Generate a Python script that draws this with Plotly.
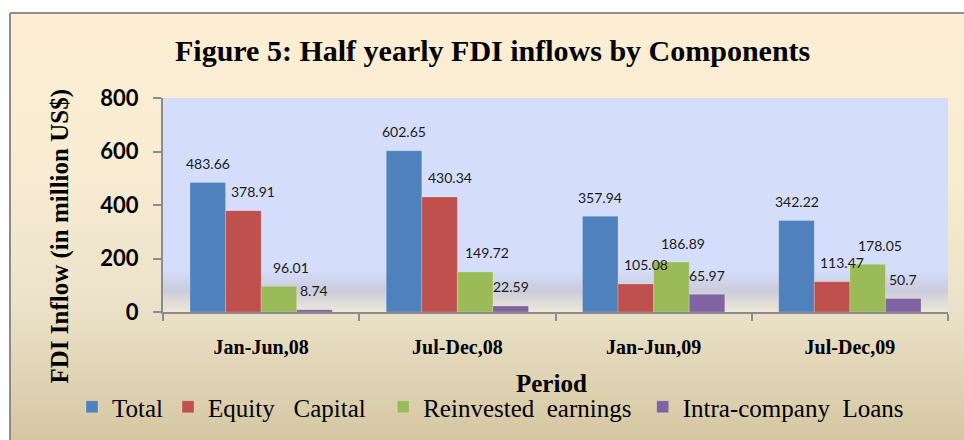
import plotly.graph_objects as go

# ---------------- data ----------------
periods = ["Jan-Jun,08", "Jul-Dec,08", "Jan-Jun,09", "Jul-Dec,09"]
total = [483.66, 602.65, 357.94, 342.22]
equity_capital = [378.91, 430.34, 105.08, 113.47]
reinvested_earnings = [96.01, 149.72, 186.89, 178.05]
intra_company_loans = [8.74, 22.59, 65.97, 50.7]
series_names = ["Total", "Equity   Capital", "Reinvested  earnings", "Intra-company  Loans"]
y_tick_values = [0, 200, 400, 600, 800]

# ---------------- style ----------------
W, H = 964, 440
PLOT_L, PLOT_R, PLOT_T, PLOT_B = 163, 948, 98, 312
colors = ["#4F81BD", "#C0504D", "#9BBB59", "#8064A2"]
label_xshift = [0, 10, 12, 0]
legend_pad = [0, 2, 1, 0]          # extra spacing (nbsp) after each legend entry
BARGAP = 0.275
SERIF = "Liberation Serif, Times New Roman, serif"
SANS = "Lato, Carlito, Calibri, sans-serif"
AXIS_GREY = "#8C8C8C"

series_values = [total, equity_capital, reinvested_earnings, intra_company_loans]

fig = go.Figure()

# background gradients (pixel-space helper axes x/y)
fig.add_trace(go.Scatter(
    x=[10, W, W, 10, 10], y=[0, 0, H - 13, H - 13, 0],
    mode="lines", fill="toself", line=dict(width=0),
    fillgradient=dict(type="vertical", start=0, stop=H - 13,
                      colorscale=[[0, "#D6C7A2"], [0.3, "#EAE1C8"], [0.6, "#F7ECD3"], [1, "#FDEED3"]]),
    hoverinfo="skip", showlegend=False, xaxis="x", yaxis="y"))
fig.add_trace(go.Scatter(
    x=[PLOT_L, PLOT_R, PLOT_R, PLOT_L, PLOT_L],
    y=[H - PLOT_B, H - PLOT_B, H - PLOT_T, H - PLOT_T, H - PLOT_B],
    mode="lines", fill="toself", line=dict(width=0),
    fillgradient=dict(type="vertical", start=H - PLOT_B, stop=H - PLOT_T,
                      colorscale=[[0, "#EEE8D6"], [0.1, "#CBCCDC"], [0.2, "#D4DEFB"], [1, "#D4DEFB"]]),
    hoverinfo="skip", showlegend=False, xaxis="x", yaxis="y"))

# bars
for name, pad, vals, col in zip(series_names, legend_pad, series_values, colors):
    fig.add_trace(go.Bar(
        x=periods, y=vals, name=name.replace(" ", "\u00a0") + "\u00a0" * pad,
        marker=dict(color=col, line=dict(color="rgba(255,255,255,0.35)", width=0.6)),
        xaxis="x2", yaxis="y2", hoverinfo="skip"))

# data labels
bar_w = (1 - BARGAP) / len(series_values)
annotations = []
for j, vals in enumerate(series_values):
    for i, v in enumerate(vals):
        annotations.append(dict(
            x=i + (j - (len(series_values) - 1) / 2) * bar_w, y=v,
            xref="x2", yref="y2", text=f"{v:g}", showarrow=False,
            xanchor="center", yanchor="middle", yshift=19, xshift=label_xshift[j],
            font=dict(family=SANS, size=14, color="#1a1a1a")))

annotations += [
    dict(text="Figure 5: Half yearly FDI inflows by Components", x=493 / W, y=(H - 50) / H,
         xref="paper", yref="paper", showarrow=False, xanchor="center", yanchor="middle",
         font=dict(family=SERIF, size=30, color="black", weight="bold")),
    dict(text="FDI Inflow (in million US$)", x=59 / W, y=(H - 236.5) / H, textangle=-90,
         xref="paper", yref="paper", showarrow=False, xanchor="center", yanchor="middle",
         font=dict(family=SERIF, size=25, color="black", weight="bold")),
    dict(text="Period", x=551 / W, y=(H - 383) / H,
         xref="paper", yref="paper", showarrow=False, xanchor="center", yanchor="middle",
         font=dict(family=SERIF, size=25, color="black", weight="bold")),
]

fig.update_layout(
    width=W, height=H,
    margin=dict(l=0, r=0, t=0, b=0, autoexpand=False),
    paper_bgcolor="white", plot_bgcolor="rgba(0,0,0,0)",
    barmode="group", bargap=BARGAP, bargroupgap=0,
    showlegend=True,
    legend=dict(orientation="h", x=72 / W, xanchor="left", y=(H - 407) / H, yanchor="middle",
                font=dict(family=SERIF, size=25, color="black"), bgcolor="rgba(0,0,0,0)",
                itemclick=False, itemdoubleclick=False, traceorder="normal"),
    xaxis=dict(domain=[0, 1], range=[0, W], visible=False, fixedrange=True, automargin=False),
    yaxis=dict(domain=[0, 1], range=[0, H], visible=False, fixedrange=True, automargin=False),
    xaxis2=dict(domain=[PLOT_L / W, PLOT_R / W], anchor="y2", type="category", automargin=False,
                showline=True, linecolor=AXIS_GREY, linewidth=2,
                ticks="outside", tickson="boundaries", ticklen=7, tickwidth=2, tickcolor=AXIS_GREY,
                tickfont=dict(family=SERIF, size=20, color="black", weight="bold"),
                ticklabelstandoff=16, showgrid=False, fixedrange=True),
    yaxis2=dict(domain=[(H - PLOT_B) / H, (H - PLOT_T) / H], anchor="x2", range=[0, 800],
                automargin=False,
                tickvals=y_tick_values, showline=True, linecolor=AXIS_GREY, linewidth=2,
                ticks="outside", ticklen=8, tickwidth=2, tickcolor=AXIS_GREY,
                tickfont=dict(family=SANS, size=22, color="black", weight="bold"),
                ticklabelstandoff=10, showgrid=False, zeroline=False, fixedrange=True),
    annotations=annotations,
    shapes=[
        dict(type="line", xref="paper", yref="paper", x0=10 / W, x1=1, y0=(H - 13) / H, y1=(H - 13) / H,
             line=dict(color="#8C8C8C", width=2)),
        dict(type="line", xref="paper", yref="paper", x0=10 / W, x1=10 / W, y0=0, y1=(H - 13) / H,
             line=dict(color="#8C8C8C", width=2)),
    ],
)

post = ("document.body.style.margin='0';document.body.style.overflow='hidden';"
        "var gd=document.getElementById('{plot_id}');gd.style.position='absolute';"
        "gd.style.left='0px';gd.style.top='0px';")
fig.write_html("out.html", config={"displayModeBar": False}, post_script=post)
